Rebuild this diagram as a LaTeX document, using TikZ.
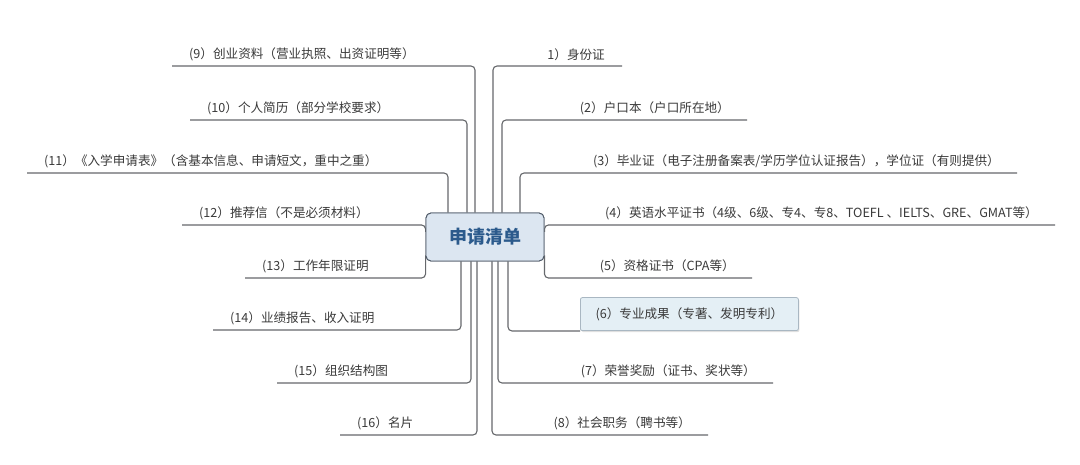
\documentclass[tikz,border=0pt]{standalone}
\usepackage{fontspec}
\setmainfont{Noto Sans CJK SC}
\usetikzlibrary{shadows}
\definecolor{linec}{HTML}{66686C}
\definecolor{txtc}{HTML}{3A3A3A}
\definecolor{rootfill}{HTML}{DCE6F1}
\definecolor{rootdraw}{HTML}{4D5866}
\definecolor{roottext}{HTML}{2B5A8C}
\definecolor{hlfill}{HTML}{E4EFF5}
\definecolor{hldraw}{HTML}{A9B7C2}
\begin{document}
\begin{tikzpicture}[x=1pt,y=-1pt,
  br/.style={font=\fontsize{12.6}{14}\selectfont, text=txtc, inner xsep=17pt, inner ysep=5pt},
  lft/.style={br, anchor=south west},
  rgt/.style={br, anchor=south east},
  conn/.style={draw=linec, line width=1.1pt, rounded corners=4pt},
  rootbox/.style={draw=rootdraw, line width=0.9pt, fill=rootfill, rounded corners=5pt,
    minimum width=118pt, minimum height=48pt, font=\fontsize{18}{20}\selectfont\bfseries, text=roottext},
  hlbox/.style={draw=hldraw, line width=0.8pt, fill=hlfill, rounded corners=2pt,
    minimum width=218pt, minimum height=33pt, font=\fontsize{12.6}{14}\selectfont, text=txtc,
    drop shadow={shadow xshift=1pt, shadow yshift=-1.5pt, opacity=0.25}}
]
\useasboundingbox (0,0) rectangle (1080,465);
\fill[white] (0,0) rectangle (1080,465);

\node[rootbox] (root) at (485,237) {申请清单};

% left branches
\node[lft] (b9)  at (172,66)  {(9）创业资料（营业执照、出资证明等）};
\node[lft] (b10) at (190,120) {(10）个人简历（部分学校要求）};
\node[lft] (b11) at (27,173)  {(11）《入学申请表》（含基本信息、申请短文，重中之重）};
\node[lft] (b12) at (182,225) {(12）推荐信（不是必须材料）};
\node[lft] (b13) at (245,278) {(13）工作年限证明};
\node[lft] (b14) at (213,330) {(14）业绩报告、收入证明};
\node[lft] (b15) at (277,383) {(15）组织结构图};
\node[lft] (b16) at (340,435) {(16）名片};

% right branches
\node[rgt] (b1) at (622,66)   {1）身份证};
\node[rgt] (b2) at (747,120)  {(2）户口本（户口所在地）};
\node[rgt] (b3) at (1017,173) {(3）毕业证（电子注册备案表/学历学位认证报告），学位证（有则提供）};
\node[rgt] (b4) at (1055,225) {(4）英语水平证书（4级、6级、专4、专8、TOEFL 、IELTS、GRE、GMAT等）};
\node[rgt] (b5) at (752,278)  {(5）资格证书（CPA等）};
\node[hlbox, anchor=south west] (b6) at (580,331) {(6）专业成果（专著、发明专利）};
\node[rgt] (b7) at (773,383)  {(7）荣誉奖励（证书、奖状等）};
\node[rgt] (b8) at (708,435)  {(8）社会职务（聘书等）};

% connectors (left)
\draw[conn] ([xshift=-10pt]root.north) |- (b9.south west);
\draw[conn] ([xshift=-18pt]root.north) |- (b10.south west);
\draw[conn] ([xshift=-37pt]root.north) |- (b11.south west);
\draw[conn] ([yshift=5pt]root.west) |- (b12.south west);
\draw[conn] ([yshift=6pt]root.south west) |- (b13.south west);
\draw[conn] ([xshift=-24pt]root.south) |- (b14.south west);
\draw[conn] ([xshift=-14pt]root.south) |- (b15.south west);
\draw[conn] ([xshift=-8pt]root.south) |- (b16.south west);

% connectors (right)
\draw[conn] ([xshift=8pt]root.north) |- (b1.south east);
\draw[conn] ([xshift=17pt]root.north) |- (b2.south east);
\draw[conn] ([xshift=35pt]root.north) |- (b3.south east);
\draw[conn] ([yshift=5pt]root.east) |- (b4.south east);
\draw[conn] ([yshift=6pt]root.south east) |- (b5.south east);
\draw[conn] ([xshift=23pt]root.south) |- (b6.south west);
\draw[conn] ([xshift=13pt]root.south) |- (b7.south east);
\draw[conn] ([xshift=7pt]root.south) |- (b8.south east);

\node[rootbox] at (root.center) {申请清单};
\end{tikzpicture}
\end{document}
